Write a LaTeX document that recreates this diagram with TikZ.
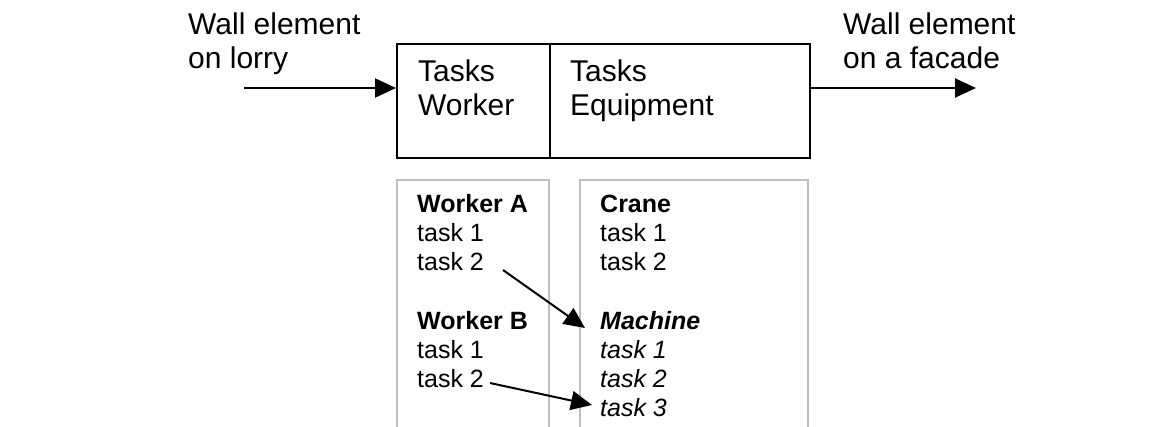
\documentclass[tikz,border=0pt]{standalone}
\usepackage{fontspec}
\setmainfont{Liberation Sans}
\usetikzlibrary{arrows.meta}
\begin{document}
\begin{tikzpicture}[x=1pt,y=-1pt,
  flow/.style={line width=2pt,-{Triangle[length=21pt,width=19pt]}},
  big/.style={font=\fontsize{30}{34}\selectfont, align=left, inner sep=0pt, anchor=base west},
  small/.style={font=\fontsize{25}{29}\selectfont, align=left, inner sep=0pt, anchor=base west},
  taskbox/.style={draw, line width=2pt, minimum height=114pt, inner sep=0pt, anchor=north west},
  listframe/.style={draw=black!25, line width=2pt}]
\useasboundingbox (0,0) rectangle (1150,427);
% top boxes
\node[taskbox, minimum width=153pt] (tw) at (396,43) {};
\node[taskbox, minimum width=260pt] (te) at (549,43) {};
\node[big] (twt) at (418,116) {Tasks\\Worker};
\node[big] (tet) at (570,116) {Tasks\\Equipment};
% side labels
\node[big] (inl) at (188,69) {Wall element\\on lorry};
\node[big] (outl) at (843,69) {Wall element\\on a facade};
\coordinate (inS) at (244,88);
\coordinate (outE) at (976,88);
\draw[flow] (inS) -- (inS -| tw.west);
\draw[flow] (te.east |- outE) -- (outE);
% lower frames
\draw[listframe] (397,435) |- (549,180) -- (549,435);
\draw[listframe] (580,435) |- (808,180) -- (808,435);
% lists
\node[small] (wa) at (417,271) {\textbf{Worker A}\\task 1\\task 2};
\node[small] (wb) at (417,387) {\textbf{Worker B}\\task 1\\task 2};
\node[small] (cr) at (600,271) {\textbf{Crane}\\task 1\\task 2};
\node[small] (ma) at (600,416) {\textbf{\itshape Machine}\\\itshape task 1\\\itshape task 2\\\itshape task 3};
% links
\coordinate (a1s) at (503,270);
\coordinate (a1e) at (585,328);
\coordinate (a2s) at (490,383);
\coordinate (a2e) at (592,405);
\draw[flow] (a1s) -- (a1e);
\draw[flow] (a2s) -- (a2e);
\end{tikzpicture}
\end{document}
